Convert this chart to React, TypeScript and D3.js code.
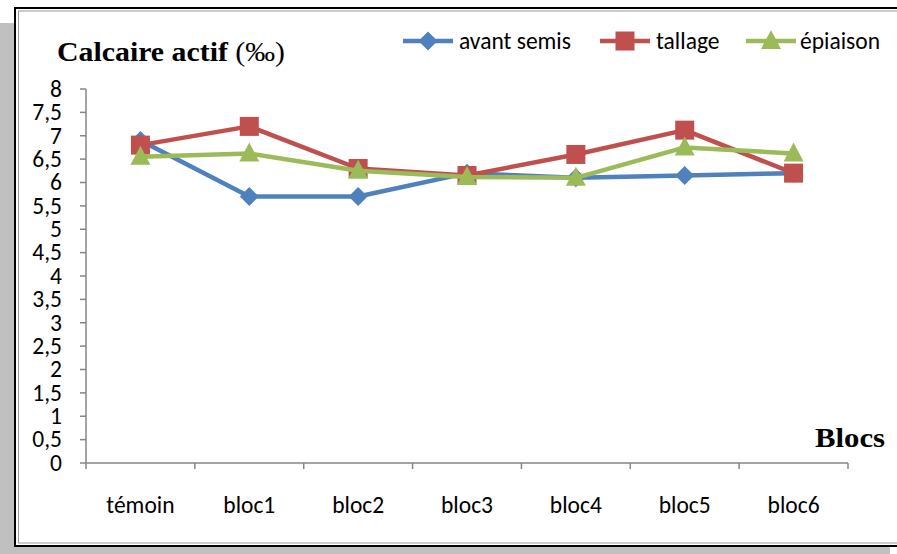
import React from "react";
import * as d3 from "d3";

const categories = ["témoin", "bloc1", "bloc2", "bloc3", "bloc4", "bloc5", "bloc6"];
const avantSemis = [6.9, 5.7, 5.7, 6.2, 6.1, 6.15, 6.2];
const tallage = [6.8, 7.2, 6.3, 6.15, 6.6, 7.12, 6.2];
const epiaison = [6.55, 6.62, 6.25, 6.12, 6.1, 6.75, 6.62];
const yTicks = [0, 0.5, 1, 1.5, 2, 2.5, 3, 3.5, 4, 4.5, 5, 5.5, 6, 6.5, 7, 7.5, 8];
const seriesNames = ["avant semis", "tallage", "épiaison"];

const W = 897, H = 554;
const left = 86, right = 848, top = 89, bottom = 463;
const colors = ["#4F81BD", "#C0504D", "#9BBB59"];
const font = "Calibri, Carlito, 'Liberation Sans', Arial, sans-serif";
const serif = "'Times New Roman', 'Liberation Serif', serif";

function Marker({ kind, x, y, color }: { kind: number; x: number; y: number; color: string }) {
  if (kind === 0) {
    const s = 9.5;
    return <path d={`M${x},${y - s}L${x + s},${y}L${x},${y + s}L${x - s},${y}Z`} fill={color} />;
  }
  if (kind === 1) {
    return <rect x={x - 9.5} y={y - 9.5} width={19} height={19} fill={color} />;
  }
  return <path d={`M${x},${y - 11}L${x + 10},${y + 8}L${x - 10},${y + 8}Z`} fill={color} />;
}

export default function App() {
  const x = d3.scaleBand<string>().domain(categories).range([left, right]);
  const y = d3.scaleLinear().domain([0, 8]).range([bottom, top]);
  const series = [avantSemis, tallage, epiaison];
  const cx = (i: number) => (x(categories[i]) as number) + x.bandwidth() / 2;
  const line = d3
    .line<number>()
    .x((_, i) => cx(i))
    .y((v) => y(v));
  const fmt = (v: number) => String(v).replace(".", ",");
  const boundaries = d3.range(categories.length + 1).map((i) => left + i * x.bandwidth());
  const legend = [
    { x: 403, tx: 459 },
    { x: 600, tx: 656 },
    { x: 746, tx: 800 },
  ];
  return (
    <svg width={W} height={H} style={{ position: "absolute", left: 0, top: 0 }}>
      <rect x={0} y={0} width={W} height={H} fill="#fff" />
      <rect x={0} y={23} width={890} height={H - 23} fill="#C0C0C0" />
      <rect x={15} y={8} width={W} height={538} fill="#fff" stroke="#000" strokeWidth={2} />
      <rect x={18.5} y={11} width={W} height={532} fill="none" stroke="#9a9a9a" strokeWidth={1} />

      <g fontFamily={font} fontSize={23.5} fill="#000">
        {yTicks.map((t) => (
          <g key={t}>
            <line x1={left - 6} x2={left} y1={y(t)} y2={y(t)} stroke="#868686" strokeWidth={1.5} />
            <text x={62} y={y(t)} dy="0.33em" textAnchor="end">
              {fmt(t)}
            </text>
          </g>
        ))}
        {boundaries.map((b, i) => (
          <line key={i} x1={b} x2={b} y1={bottom} y2={bottom + 6} stroke="#868686" strokeWidth={1.5} />
        ))}
        {categories.map((c, i) => (
          <text key={c} x={cx(i)} y={513} textAnchor="middle">
            {c}
          </text>
        ))}
      </g>
      <line x1={left} x2={left} y1={top} y2={bottom} stroke="#868686" strokeWidth={1.5} />
      <line x1={left} x2={right} y1={bottom} y2={bottom} stroke="#868686" strokeWidth={1.5} />

      {series.map((s, k) => (
        <g key={k}>
          <path d={line(s) || ""} fill="none" stroke={colors[k]} strokeWidth={4.5} strokeLinejoin="round" />
          {s.map((v, i) => (
            <Marker key={i} kind={k} x={cx(i)} y={y(v)} color={colors[k]} />
          ))}
        </g>
      ))}

      <g fontFamily={font} fontSize={23.5}>
        {legend.map((l, k) => (
          <g key={k}>
            <line x1={l.x} x2={l.x + 50} y1={41} y2={41} stroke={colors[k]} strokeWidth={4.5} />
            <Marker kind={k} x={l.x + 25} y={41} color={colors[k]} />
            <text x={l.tx} y={41} dy="0.33em">
              {seriesNames[k]}
            </text>
          </g>
        ))}
      </g>

      <text x={57} y={61} fontFamily={serif} fontSize={27} fontWeight="bold" textLength={228} lengthAdjust="spacingAndGlyphs">
        Calcaire actif <tspan fontWeight="normal">(‰)</tspan>
      </text>
      <text x={815} y={447} fontFamily={serif} fontSize={28} fontWeight="bold" textLength={70} lengthAdjust="spacingAndGlyphs">
        Blocs
      </text>
    </svg>
  );
}
